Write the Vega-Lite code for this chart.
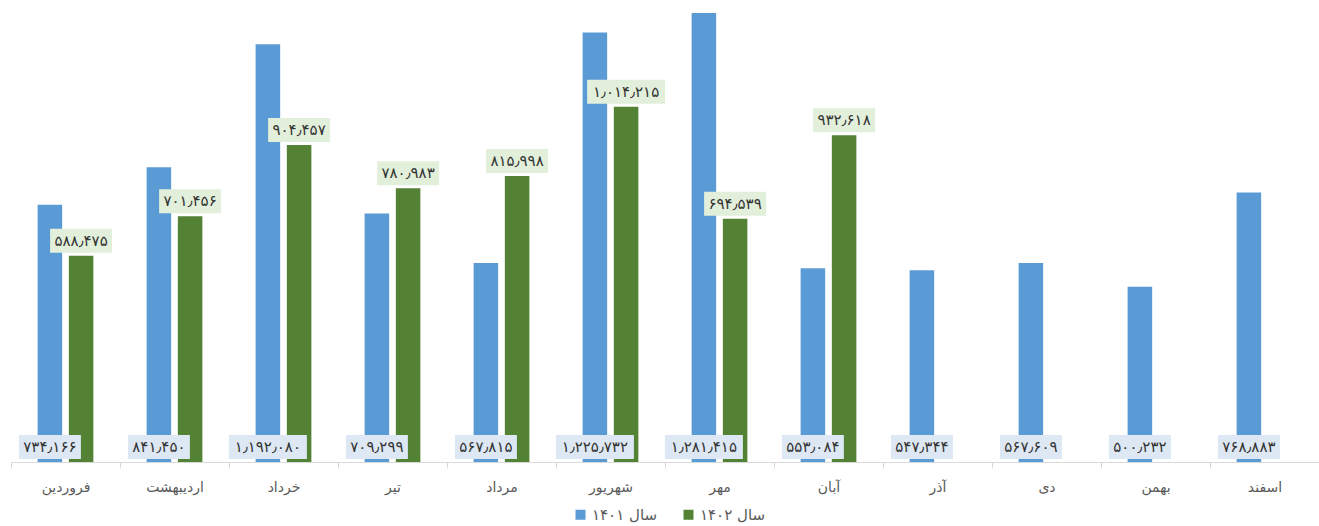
{
  "$schema": "https://vega.github.io/schema/vega-lite/v6.json",
  "description": "Monthly comparison of 1401 and 1402, grouped bars with boxed value labels.",
  "background": "white",
  "autosize": {"type": "none"},
  "padding": {"left": 11, "top": 13, "right": 0, "bottom": 64},
  "width": 1308,
  "height": 449,
  "config": {
    "view": {"stroke": null},
    "font": "DejaVu Sans",
    "locale": {
      "number": {
        "decimal": ".",
        "thousands": "٫",
        "grouping": [3],
        "currency": ["", ""],
        "numerals": ["۰", "۱", "۲", "۳", "۴", "۵", "۶", "۷", "۸", "۹"]
      }
    }
  },
  "data": {
    "values": [
      {"month": "فروردین", "year": "سال ۱۴۰۱", "value": 734166},
      {"month": "اردیبهشت", "year": "سال ۱۴۰۱", "value": 841450},
      {"month": "خرداد", "year": "سال ۱۴۰۱", "value": 1192080},
      {"month": "تیر", "year": "سال ۱۴۰۱", "value": 709299},
      {"month": "مرداد", "year": "سال ۱۴۰۱", "value": 567815},
      {"month": "شهریور", "year": "سال ۱۴۰۱", "value": 1225732},
      {"month": "مهر", "year": "سال ۱۴۰۱", "value": 1281415},
      {"month": "آبان", "year": "سال ۱۴۰۱", "value": 553084},
      {"month": "آذر", "year": "سال ۱۴۰۱", "value": 547344},
      {"month": "دی", "year": "سال ۱۴۰۱", "value": 567609},
      {"month": "بهمن", "year": "سال ۱۴۰۱", "value": 500232},
      {"month": "اسفند", "year": "سال ۱۴۰۱", "value": 768883},
      {"month": "فروردین", "year": "سال ۱۴۰۲", "value": 588475},
      {"month": "اردیبهشت", "year": "سال ۱۴۰۲", "value": 701456},
      {"month": "خرداد", "year": "سال ۱۴۰۲", "value": 904457},
      {"month": "تیر", "year": "سال ۱۴۰۲", "value": 780983},
      {"month": "مرداد", "year": "سال ۱۴۰۲", "value": 815998},
      {"month": "شهریور", "year": "سال ۱۴۰۲", "value": 1014215},
      {"month": "مهر", "year": "سال ۱۴۰۲", "value": 694539},
      {"month": "آبان", "year": "سال ۱۴۰۲", "value": 932618}
    ]
  },
  "encoding": {
    "x": {
      "field": "month",
      "type": "nominal",
      "sort": ["فروردین", "اردیبهشت", "خرداد", "تیر", "مرداد", "شهریور", "مهر", "آبان", "آذر", "دی", "بهمن", "اسفند"],
      "scale": {"paddingInner": 0, "paddingOuter": 0},
      "axis": {
        "title": null,
        "labelAngle": 0,
        "tickBand": "extent",
        "domainColor": "#d9d9d9",
        "tickColor": "#d9d9d9",
        "tickSize": 6,
        "labelPadding": 12,
        "labelFontSize": 14,
        "labelColor": "#595959"
      }
    },
    "xOffset": {
      "field": "year",
      "type": "nominal",
      "sort": ["سال ۱۴۰۱", "سال ۱۴۰۲"],
      "scale": {"paddingInner": 0.214, "paddingOuter": 0.853}
    }
  },
  "layer": [
    {
      "mark": {"type": "bar"},
      "encoding": {
        "y": {
          "field": "value",
          "type": "quantitative",
          "scale": {"domain": [0, 1281415], "nice": false},
          "axis": null
        },
        "color": {
          "field": "year",
          "type": "nominal",
          "sort": ["سال ۱۴۰۱", "سال ۱۴۰۲"],
          "scale": {"range": ["#5b9bd5", "#548235"]},
          "legend": {
            "title": null,
            "orient": "none",
            "legendX": 562,
            "legendY": 494,
            "direction": "horizontal",
            "symbolType": "square",
            "symbolSize": 100,
            "labelFontSize": 15,
            "labelColor": "#595959",
            "columnPadding": 23
          }
        }
      }
    },
    {
      "transform": [{"filter": "datum.year === 'سال ۱۴۰۲'"}],
      "mark": {"type": "tick", "color": "#e2efda", "opacity": 1, "thickness": 24, "yOffset": -15},
      "encoding": {
        "y": {"field": "value", "type": "quantitative"},
        "size": {"condition": {"test": "datum.value >= 1000000", "value": 78}, "value": 62}
      }
    },
    {
      "transform": [{"filter": "datum.year === 'سال ۱۴۰۲'"}],
      "mark": {"type": "text", "color": "#333333", "fontSize": 15, "dy": -15, "baseline": "middle"},
      "encoding": {
        "y": {"field": "value", "type": "quantitative"},
        "text": {"field": "value", "type": "quantitative", "format": ","}
      }
    },
    {
      "transform": [{"filter": "datum.year === 'سال ۱۴۰۱'"}],
      "mark": {"type": "tick", "color": "#dde8f4", "opacity": 1, "thickness": 24, "yOffset": -15},
      "encoding": {
        "y": {"datum": 0, "type": "quantitative"},
        "size": {"condition": {"test": "datum.value >= 1000000", "value": 78}, "value": 62}
      }
    },
    {
      "transform": [{"filter": "datum.year === 'سال ۱۴۰۱'"}],
      "mark": {"type": "text", "color": "#333333", "fontSize": 15, "dy": -15, "baseline": "middle"},
      "encoding": {
        "y": {"datum": 0, "type": "quantitative"},
        "text": {"field": "value", "type": "quantitative", "format": ","}
      }
    }
  ]
}
